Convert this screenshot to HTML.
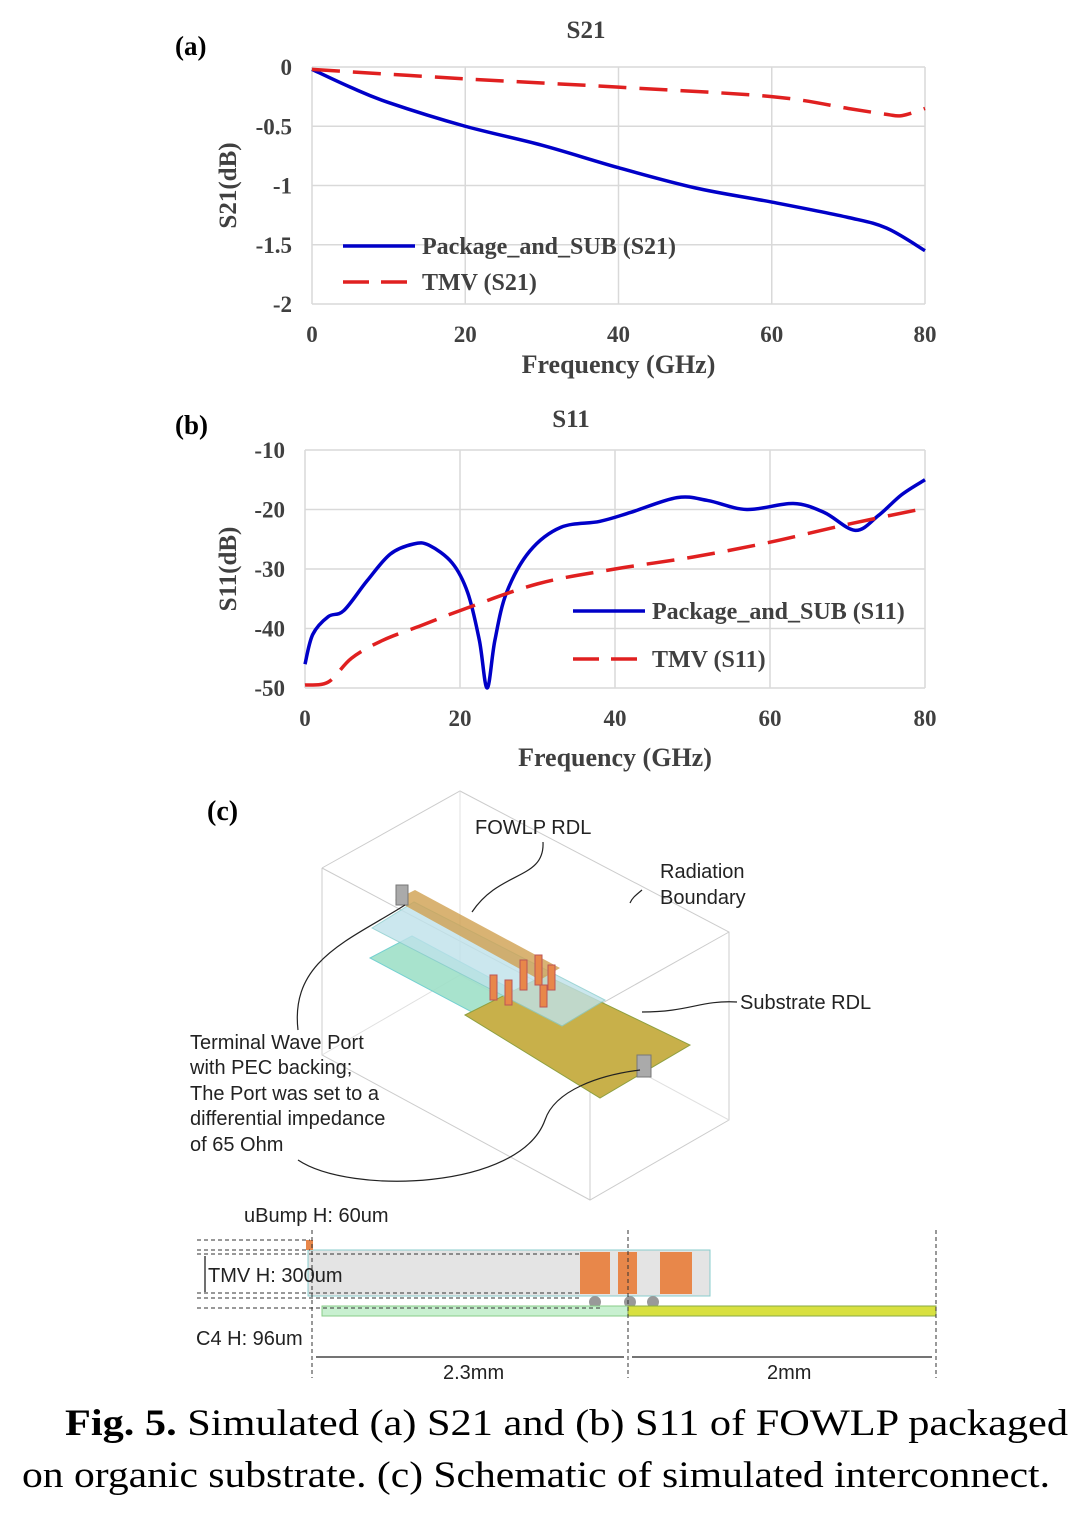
<!DOCTYPE html>
<html><head><meta charset="utf-8"><style>
body{margin:0;background:#fff;}
svg{display:block;}
.t{font-family:"Liberation Serif",serif;font-weight:bold;fill:#404040;}
.s{font-family:"Liberation Sans",sans-serif;fill:#222;font-size:20px;}
</style></head><body>
<svg id="root" width="1080" height="1514" viewBox="0 0 1080 1514" xmlns="http://www.w3.org/2000/svg">
<g id="chartA"></g>
<g id="chartB"></g>
<g id="schem">
 <text x="207" y="820" font-family="Liberation Serif" font-weight="bold" font-size="28" fill="#000">(c)</text>
 <g fill="none" stroke="#ccc" stroke-width="1">
  <polyline points="322,868 460,791 729,932 729,1120 590,1200 322,1055 322,868"/>
  <polyline points="322,868 590,1010 729,932"/><line x1="590" y1="1010" x2="590" y2="1200"/>
  <polyline points="460,791 460,975 322,1055" stroke="#e0e0e0"/><line x1="460" y1="975" x2="729" y2="1120" stroke="#e0e0e0"/>
 </g>
 <polygon points="370,958 412,936 640,1058 600,1080" fill="#9fe0c8" stroke="#6cc" opacity="0.9"/>
 <polygon points="465,1015 545,975 690,1045 600,1098" fill="#c8b04a" stroke="#8fa040"/>
 <polygon points="372,928 414,902 605,1000 562,1026" fill="#bfe2ea" stroke="#8cc" opacity="0.8"/>
 <polygon points="395,900 415,890 560,968 540,980" fill="#d0a050" opacity="0.8"/>
 <g fill="#e8874a" stroke="#b55"><rect x="490" y="975" width="7" height="25"/><rect x="505" y="980" width="7" height="25"/><rect x="520" y="960" width="7" height="30"/><rect x="535" y="955" width="7" height="30"/><rect x="548" y="965" width="7" height="25"/><rect x="540" y="985" width="7" height="22"/></g>
 <rect x="396" y="885" width="12" height="20" fill="#aaa" stroke="#777"/>
 <rect x="637" y="1055" width="14" height="22" fill="#aaa" stroke="#777"/>
 <g fill="none" stroke="#222" stroke-width="1.2">
  <path d="M543,842 C545,880 500,870 472,912"/>
  <path d="M298,1030 C290,960 350,940 405,905"/>
  <path d="M298,1160 C350,1195 520,1190 545,1120 C555,1090 600,1075 640,1070"/>
  <path d="M737,1002 C700,1000 690,1012 642,1012"/>
  <path d="M642,890 C636,895 632,898 630,903"/>
 </g>
 <text class="s" x="475" y="834">FOWLP RDL</text>
 <text class="s" x="660" y="878">Radiation</text>
 <text class="s" x="660" y="904">Boundary</text>
 <text class="s" x="740" y="1009">Substrate RDL</text>
 <g>
  <text class="s" x="190" y="1049">Terminal Wave Port</text>
  <text class="s" x="190" y="1074">with PEC backing;</text>
  <text class="s" x="190" y="1100">The Port was set to a</text>
  <text class="s" x="190" y="1125">differential impedance</text>
  <text class="s" x="190" y="1151">of 65 Ohm</text>
 </g>
</g>
<g id="cross">
 <rect x="308" y="1250" width="402" height="46" fill="#e4e4e4" stroke="#8cc"/>
 <rect x="306" y="1240" width="7" height="10" fill="#e8874a"/>
 <g fill="#e8874a"><rect x="580" y="1252" width="30" height="42"/><rect x="618" y="1252" width="19" height="42"/><rect x="660" y="1252" width="32" height="42"/></g>
 <g fill="#999"><circle cx="595" cy="1302" r="6"/><circle cx="630" cy="1302" r="6"/><circle cx="653" cy="1302" r="6"/></g>
 <rect x="322" y="1306" width="306" height="10" fill="#c8f0d0" stroke="#8c8"/>
 <rect x="628" y="1306" width="308" height="10" fill="#d8e040" stroke="#8a4"/>
 <g stroke="#333" stroke-dasharray="4,3" fill="none">
  <line x1="197" y1="1240" x2="310" y2="1240"/><line x1="197" y1="1250" x2="310" y2="1250"/><line x1="197" y1="1254" x2="580" y2="1254"/>
  <line x1="197" y1="1293" x2="580" y2="1293"/><line x1="197" y1="1298" x2="580" y2="1298"/><line x1="197" y1="1308" x2="600" y2="1308"/>
  <line x1="312" y1="1230" x2="312" y2="1378"/><line x1="628" y1="1230" x2="628" y2="1378"/><line x1="936" y1="1230" x2="936" y2="1378"/>
 </g>
 <g stroke="#222" stroke-width="1.3"><line x1="316" y1="1357" x2="624" y2="1357"/><line x1="632" y1="1357" x2="932" y2="1357"/><line x1="205" y1="1256" x2="205" y2="1292"/></g>
 <text class="s" x="244" y="1222">uBump H: 60um</text>
 <text class="s" x="208" y="1282">TMV H: 300um</text>
 <text class="s" x="196" y="1345">C4 H: 96um</text>
 <text class="s" x="443" y="1379">2.3mm</text>
 <text class="s" x="767" y="1379">2mm</text>
</g>
<g font-family="Liberation Serif" font-size="37" fill="#000">
 <text x="65" y="1435" textLength="1003" lengthAdjust="spacingAndGlyphs"><tspan font-weight="bold">Fig. 5.</tspan> Simulated (a) S21 and (b) S11 of FOWLP packaged</text>
 <text x="22" y="1487" textLength="1028" lengthAdjust="spacingAndGlyphs">on organic substrate. (c) Schematic of simulated interconnect.</text>
</g>
</svg>
<script>
const NS='http://www.w3.org/2000/svg';
const freqA=[0,5,10,20,30,40,50,60,70,75,80];
const s21Pkg=[-0.02,-0.17,-0.3,-0.5,-0.66,-0.85,-1.02,-1.14,-1.27,-1.36,-1.55];
const freqA2=[0,20,40,60,70,75,77,80];
const s21Tmv=[-0.02,-0.1,-0.17,-0.25,-0.35,-0.4,-0.41,-0.35];
const ticksAY=[0,-0.5,-1,-1.5,-2];
const ticksX=[0,20,40,60,80];
const freqB=[0,1,3,5,8,11,14,16,19,21,22.5,23.5,24.5,26,29,33,38,42,48,52,57,63,67,71,74,77,80];
const s11Pkg=[-46,-41,-38,-37,-32,-27.5,-25.8,-26,-29,-34,-42,-50,-42,-34,-27,-23,-22,-20.5,-18,-18.5,-20,-19,-20.5,-23.5,-21,-17.5,-15];
const freqB2=[0,3,6,10,15,20,30,40,50,60,70,80];
const s11Tmv=[-49.5,-49,-45,-42,-39.5,-37,-32.5,-30,-28,-25.5,-22.5,-19.8];
const ticksBY=[-10,-20,-30,-40,-50];

function mk(p,tag,a,txt){const e=document.createElementNS(NS,tag);for(const k in a)e.setAttribute(k,a[k]);if(txt!==undefined)e.textContent=txt;p.appendChild(e);return e;}
function smooth(pts){let d='M'+pts[0][0]+','+pts[0][1];for(let i=0;i<pts.length-1;i++){const p0=pts[i-1]||pts[i],p1=pts[i],p2=pts[i+1],p3=pts[i+2]||p2;const c1=[p1[0]+(p2[0]-p0[0])/6,p1[1]+(p2[1]-p0[1])/6],c2=[p2[0]-(p3[0]-p1[0])/6,p2[1]-(p3[1]-p1[1])/6];d+=' C'+c1+' '+c2+' '+p2;}return d;}
function chart(g,o){
 const X=v=>o.x0+(v-o.xmin)/(o.xmax-o.xmin)*(o.x1-o.x0);
 const Y=v=>o.y0+(o.ymax-v)/(o.ymax-o.ymin)*(o.y1-o.y0);
 ticksX.forEach(t=>{const l=mk(g,'line',{x1:X(t),x2:X(t),y1:o.y0,y2:o.y1,stroke:'#d9d9d9','stroke-width':1.5});
  
  
  const tx=mk(g,'text',{x:X(t),y:o.y1+38,'text-anchor':'middle','font-size':23,class:'t'},t);
  
  });
 o.ticksY.forEach(t=>{const l=mk(g,'line',{x1:o.x0,x2:o.x1,y1:Y(t),y2:Y(t),stroke:'#d9d9d9','stroke-width':1.5});
  
  
  const tx=mk(g,'text',{x:o.x0-20,y:Y(t)+8,'text-anchor':'end','font-size':23,class:'t'},t);
  
  });
 const s1=mk(g,'path',{d:smooth(o.f1.map((f,i)=>[X(f),Y(o.v1[i])])),fill:'none',stroke:'#0000c8','stroke-width':3.5});
 
 
 const s2=mk(g,'path',{d:smooth(o.f2.map((f,i)=>[X(f),Y(o.v2[i])])),fill:'none',stroke:'#e02020','stroke-width':3.5,'stroke-dasharray':'28,13'});
 
 
 const ti=mk(g,'text',{x:o.tx,y:o.ty,'text-anchor':'middle','font-size':25,class:'t'},o.title);
 
 
 const xt=mk(g,'text',{x:(o.x0+o.x1)/2,y:o.xty,'text-anchor':'middle','font-size':26,class:'t'},'Frequency (GHz)');
 
 
 const yt=mk(g,'text',{x:0,y:0,transform:'translate(236,'+(o.y0+o.y1)/2+') rotate(-90)','text-anchor':'middle','font-size':25,class:'t'},o.ylab);
 
 
 const pl=mk(g,'text',{x:175,y:o.py,'font-size':27,'font-family':'Liberation Serif','font-weight':'bold',fill:'#000'},o.panel);
 
 
 [[o.l1,'#0000c8','',o.n1],[o.l2,'#e02020','26,12',o.n2]].forEach(L=>{
  const e=mk(g,'g',{});
  
  
  mk(e,'line',{x1:o.lx,x2:o.lx+72,y1:L[0],y2:L[0],stroke:L[1],'stroke-width':3.5,'stroke-dasharray':L[2]||'none'});
  mk(e,'text',{x:o.lx+79,y:L[0]+8,'font-size':24,class:'t'},L[3]);});
}
chart(document.getElementById('chartA'),{x0:312,x1:925,y0:67,y1:304,xmin:0,xmax:80,ymin:-2,ymax:0,ticksY:ticksAY,f1:freqA,v1:s21Pkg,f2:freqA2,v2:s21Tmv,title:'S21',tx:586,ty:38,xty:373,ylab:'S21(dB)',panel:'(a)',py:55,lx:343,l1:246,l2:282,n1:'Package_and_SUB (S21)',n2:'TMV (S21)'});
chart(document.getElementById('chartB'),{x0:305,x1:925,y0:450,y1:688,xmin:0,xmax:80,ymin:-50,ymax:-10,ticksY:ticksBY,f1:freqB,v1:s11Pkg,f2:freqB2,v2:s11Tmv,title:'S11',tx:571,ty:427,xty:766,ylab:'S11(dB)',panel:'(b)',py:434,lx:573,l1:611,l2:659,n1:'Package_and_SUB (S11)',n2:'TMV (S11)'});
</script>
</body></html>
